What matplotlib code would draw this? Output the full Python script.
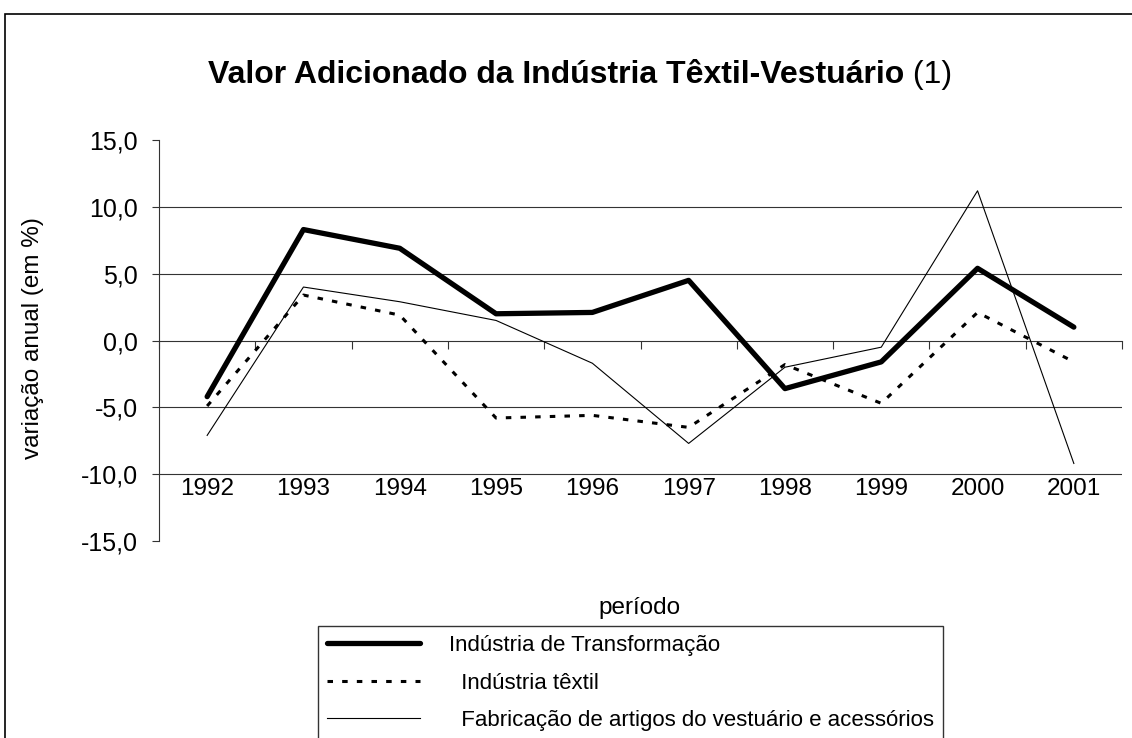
import matplotlib
matplotlib.use('Agg')
import matplotlib.pyplot as plt
from matplotlib.patches import Rectangle

plt.rcParams['font.family'] = ['Liberation Sans', 'DejaVu Sans']

# data (variação anual, %)
years = ['1992', '1993', '1994', '1995', '1996', '1997', '1998', '1999', '2000', '2001']
transformacao = [-4.2, 8.3, 6.9, 2.0, 2.1, 4.5, -3.6, -1.6, 5.4, 1.0]
textil = [-4.9, 3.4, 1.9, -5.8, -5.6, -6.5, -1.8, -4.7, 2.1, -1.6]
vestuario = [-7.1, 4.0, 2.9, 1.5, -1.7, -7.7, -2.0, -0.5, 11.2, -9.2]
labels = ['Indústria de Transformação',
          '  Indústria têxtil',
          '  Fabricação de artigos do vestuário e acessórios']
yticks = [-15, -10, -5, 0, 5, 10, 15]

W, H = 1132, 738
fig = plt.figure(figsize=(W / 100, H / 100), dpi=100)

# outer chart frame (runs off the right/bottom of the image)
fig.patches.append(Rectangle((5 / W, -0.05), 1.1, 1.05 - 14 / H,
                             transform=fig.transFigure, fill=False,
                             edgecolor='black', linewidth=1.2))

ax = fig.add_axes([159 / W, 1 - 541 / H, (1122 - 159) / W, 401 / H])
x = list(range(len(years)))

ax.plot(x, transformacao, color='black', linewidth=3.8, label=labels[0],
        solid_capstyle='round', zorder=5)
ax.plot(x, textil, color='black', linewidth=2.2, linestyle=(0, (1.8, 3.0)),
        label=labels[1], zorder=4)
ax.plot(x, vestuario, color='black', linewidth=0.8, label=labels[2], zorder=3)

ax.set_xlim(-0.5, len(years) - 0.5)
ax.set_ylim(-15, 15)

# horizontal gridlines (Excel style, not at the limits)
for v in yticks:
    if v not in (-15, 0, 15):
        ax.axhline(v, color='#333333', linewidth=0.8, zorder=1)

for side in ['top', 'right']:
    ax.spines[side].set_visible(False)
ax.spines['left'].set_color('#333333')
ax.spines['left'].set_linewidth(0.8)
ax.spines['bottom'].set_position(('data', 0))
ax.spines['bottom'].set_color('#333333')
ax.spines['bottom'].set_linewidth(0.8)

ax.set_yticks(yticks)
ax.set_yticklabels([f'{v:.1f}'.replace('.', ',') for v in yticks], fontsize=18)
ax.tick_params(axis='y', direction='out', length=5, width=0.8, color='#333333', pad=10)

ax.set_xticks([i - 0.5 for i in range(len(years) + 1)])
ax.set_xticklabels([])
ax.tick_params(axis='x', direction='out', length=6, width=0.8, color='#333333')

# category labels sit low, just under the -10 gridline
for i, yr in enumerate(years):
    ax.text(i, -11.1, yr, ha='center', va='center', fontsize=17.5)

# axis titles
fig.text(33 / W, 1 - 338 / H, 'variação anual (em %)', rotation=90,
         ha='center', va='center', fontsize=17.5)
fig.text(640 / W, 1 - 608 / H, 'período', ha='center', va='center', fontsize=17.5)

# title: bold part + regular "(1)"
t1 = fig.text(0, 1 - 75 / H, 'Valor Adicionado da Indústria Têxtil-Vestuário',
              fontsize=23, fontweight='bold', ha='left', va='center')
t2 = fig.text(0, 1 - 75 / H, ' (1)', fontsize=23, ha='left', va='center')
r = fig.canvas.get_renderer()
w1 = t1.get_window_extent(r).width
w2 = t2.get_window_extent(r).width
x0 = 580 - (w1 + w2) / 2
t1.set_x(x0 / W)
t2.set_x((x0 + w1) / W)

leg = fig.legend(loc='upper left', bbox_to_anchor=(318 / W, 1 - 626 / H),
                 fontsize=16, frameon=True, fancybox=False, edgecolor='black',
                 borderaxespad=0, borderpad=0.4, handlelength=4.2,
                 handletextpad=1.3, labelspacing=0.75)
leg.get_frame().set_linewidth(1.0)

fig.savefig('out.png', dpi=100)
